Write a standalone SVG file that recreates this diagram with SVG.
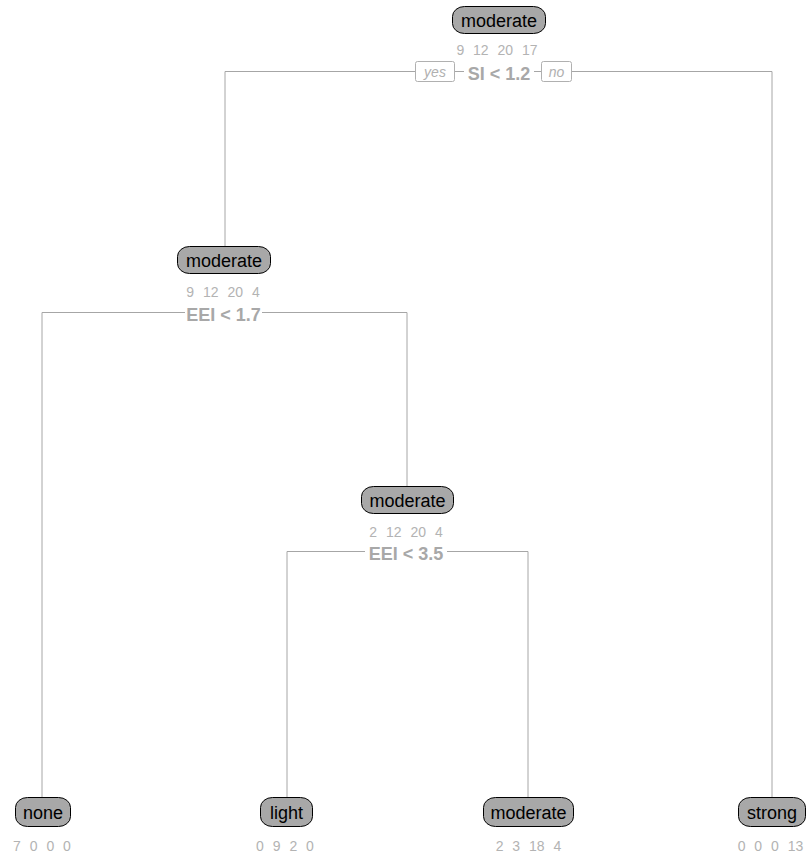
<svg xmlns="http://www.w3.org/2000/svg" width="808" height="856" viewBox="0 0 808 856">
<style>
.box{fill:#a8a8a8;stroke:#000;stroke-width:1}
.lbl{font-family:"Liberation Sans",Arial,sans-serif;font-size:18px;fill:#000;text-anchor:middle}
.cnt{font-family:"Liberation Sans",Arial,sans-serif;font-size:14px;fill:#b3b3b3;text-anchor:middle;word-spacing:5px}
.spl{font-family:"Liberation Sans",Arial,sans-serif;font-size:18px;font-weight:bold;fill:#a8a8a8;text-anchor:middle}
.yn{font-family:"Liberation Sans",Arial,sans-serif;font-size:14px;font-style:italic;fill:#b0b0b0;text-anchor:middle}
.ynb{fill:#fff;stroke:#b0b0b0;stroke-width:1}
.edge{fill:none;stroke:#a6a6a6;stroke-width:1}
.bg{fill:#fff}
</style>
<rect width="808" height="856" fill="#fff"/>
<g id="connectors">
<path class="edge" d="M225,246 V71.5 H772 V797"/>
<path class="edge" d="M42,797 V312.5 H407 V486"/>
<path class="edge" d="M287,797 V551.5 H528 V797"/>
</g>
<g id="node1">
<rect class="box" x="452.5" y="6.5" width="93" height="27" rx="12" ry="10"/>
<text class="lbl" x="499" y="26.5">moderate</text>
<text class="cnt" x="497" y="55">9 12 20 17</text>
<rect class="bg" x="464" y="61" width="70" height="21"/>
<text class="spl" x="499" y="80">SI &lt; 1.2</text>
<rect class="ynb" x="415.5" y="61.5" width="39" height="20" rx="2"/>
<text class="yn" x="435" y="76.5">yes</text>
<rect class="ynb" x="541.5" y="61.5" width="30" height="20" rx="2"/>
<text class="yn" x="556.5" y="76.5">no</text>
</g>
<g id="node2">
<rect class="box" x="177.5" y="246.5" width="93" height="27" rx="12" ry="10"/>
<text class="lbl" x="224" y="266.5">moderate</text>
<text class="cnt" x="223" y="297">9 12 20 4</text>
<rect class="bg" x="185" y="303" width="77" height="20"/>
<text class="spl" x="223.5" y="321">EEI &lt; 1.7</text>
</g>
<g id="node3">
<rect class="box" x="361.5" y="486.5" width="92" height="27" rx="12" ry="10"/>
<text class="lbl" x="407.5" y="506.5">moderate</text>
<text class="cnt" x="406" y="537">2 12 20 4</text>
<rect class="bg" x="365" y="542" width="82" height="20"/>
<text class="spl" x="406" y="560">EEI &lt; 3.5</text>
</g>
<g id="leaf_none">
<rect class="box" x="15.5" y="797.5" width="55" height="29" rx="12" ry="10"/>
<text class="lbl" x="43" y="818.5">none</text>
<text class="cnt" x="42" y="851">7 0 0 0</text>
</g>
<g id="leaf_light">
<rect class="box" x="260.5" y="797.5" width="52" height="29" rx="12" ry="10"/>
<text class="lbl" x="286.5" y="818.5">light</text>
<text class="cnt" x="285" y="851">0 9 2 0</text>
</g>
<g id="leaf_moderate">
<rect class="box" x="483.5" y="797.5" width="90" height="29" rx="12" ry="10"/>
<text class="lbl" x="528.5" y="818.5">moderate</text>
<text class="cnt" x="528.5" y="851">2 3 18 4</text>
</g>
<g id="leaf_strong">
<rect class="box" x="738.5" y="797.5" width="67" height="29" rx="12" ry="10"/>
<text class="lbl" x="772" y="818.5">strong</text>
<text class="cnt" x="770.5" y="851">0 0 0 13</text>
</g>
</svg>
